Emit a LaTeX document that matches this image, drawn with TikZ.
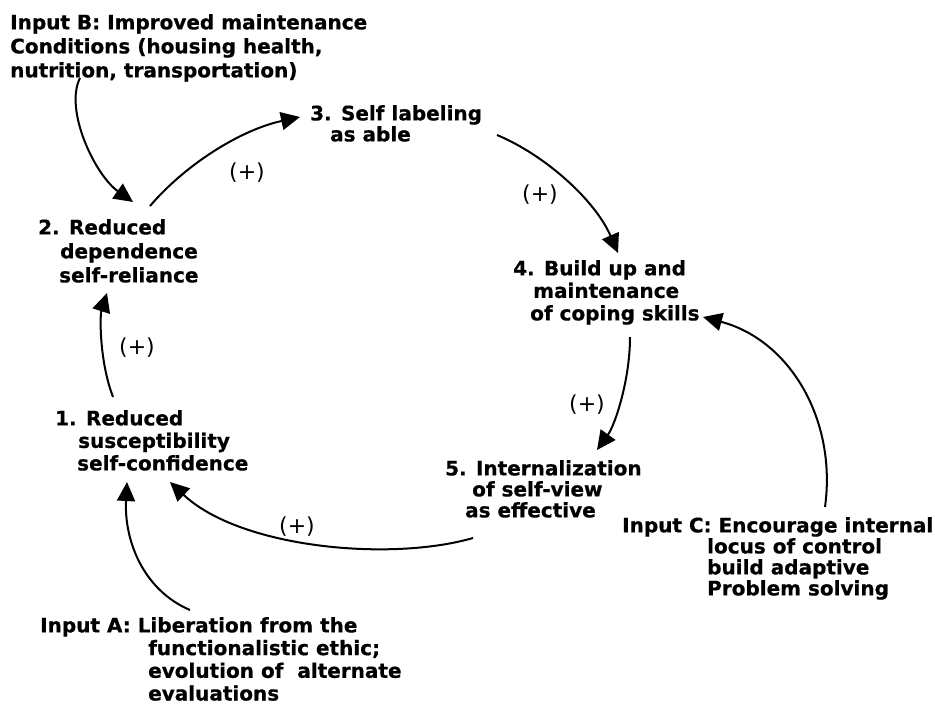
\documentclass[tikz,border=0pt]{standalone}
\usepackage{fontspec}
\setmainfont{DejaVu Sans}[BoldFeatures={FakeBold=0.6}]
\usetikzlibrary{arrows.meta}
\tikzset{
  blk/.style={anchor=north west, inner sep=0pt, align=left},
  arr/.style={line width=2pt, -{Triangle[length=19pt,width=18pt]}},
  sign/.style={inner sep=0pt, font=\fontsize{22}{23}\selectfont}
}
\newcommand{\blkfont}[1]{\fontsize{20}{#1}\selectfont\bfseries}
\begin{document}
\begin{tikzpicture}[x=1pt,y=-1pt]
\useasboundingbox[fill=white] (0,0) rectangle (935,713);
\node[blk, font=\blkfont{24}] (nB) at (10,14) {Input B: Improved maintenance\\Conditions (housing health,\\nutrition, transportation)};
\node[blk, font=\blkfont{21}] (n3) at (310,105) {3. Self labeling\\\hspace*{20pt}as able};
\node[blk, font=\blkfont{24}] (n2) at (38,219) {2. Reduced\\\hspace*{22pt}dependence\\\hspace*{21pt}self-reliance};
\node[blk, font=\blkfont{22.5}] (n1) at (55,410) {1. Reduced\\\hspace*{23pt}susceptibility\\\hspace*{22pt}self-confidence};
\node[blk, font=\blkfont{22.5}] (n4) at (513,260) {4. Build up and\\\hspace*{20pt}maintenance\\\hspace*{17pt}of coping skills};
\node[blk, font=\blkfont{21}] (n5) at (445,460) {5. Internalization\\\hspace*{27pt}of self-view\\\hspace*{20pt}as effective};
\node[blk, font=\blkfont{21}] (nC) at (622,517) {Input C: Encourage internal\\\hspace*{85pt}locus of control\\\hspace*{85pt}build adaptive\\\hspace*{85pt}Problem solving};
\node[blk, font=\blkfont{22.7}] (nA) at (40,617) {Input A: Liberation from the\\\hspace*{108pt}functionalistic ethic;\\\hspace*{108pt}evolution of\ \ alternate\\\hspace*{108pt}evaluations};
\node[sign] (p23) at (247,173) {(+)};
\node[sign] (p34) at (540,195) {(+)};
\node[sign] (p12) at (137,348) {(+)};
\node[sign] (p45) at (587,405) {(+)};
\node[sign] (p51) at (297,527) {(+)};
\draw[arr] ([shift={(70,64)}]nB.north west) .. controls (64,110) and (95,175) .. ([shift={(95,-17)}]n2.north west);
\draw[arr] ([shift={(112,-13)}]n2.north west) .. controls (185,165) and (240,130) .. ([shift={(-10,12)}]n3.north west);
\draw[arr] ([shift={(187,30)}]n3.north west) .. controls (545,155) and (595,200) .. ([shift={(105,-7)}]n4.north west);
\draw[arr] ([shift={(117,77)}]n4.north west) .. controls (630,380) and (615,425) .. ([shift={(152,-10)}]n5.north west);
\draw[arr] ([shift={(203,-10)}]nC.north west) .. controls (837,420) and (790,340) .. ([shift={(190,57)}]n4.north west);
\draw[arr] ([shift={(28,78)}]n5.north west) .. controls (390,562) and (240,548) .. ([shift={(115,72)}]n1.north west);
\draw[arr] ([shift={(150,-7)}]nA.north west) .. controls (143,590) and (124,540) .. ([shift={(72,72)}]n1.north west);
\draw[arr] ([shift={(58,-13)}]n1.north west) .. controls (99,360) and (100,315) .. ([shift={(69,74)}]n2.north west);
\end{tikzpicture}
\end{document}
